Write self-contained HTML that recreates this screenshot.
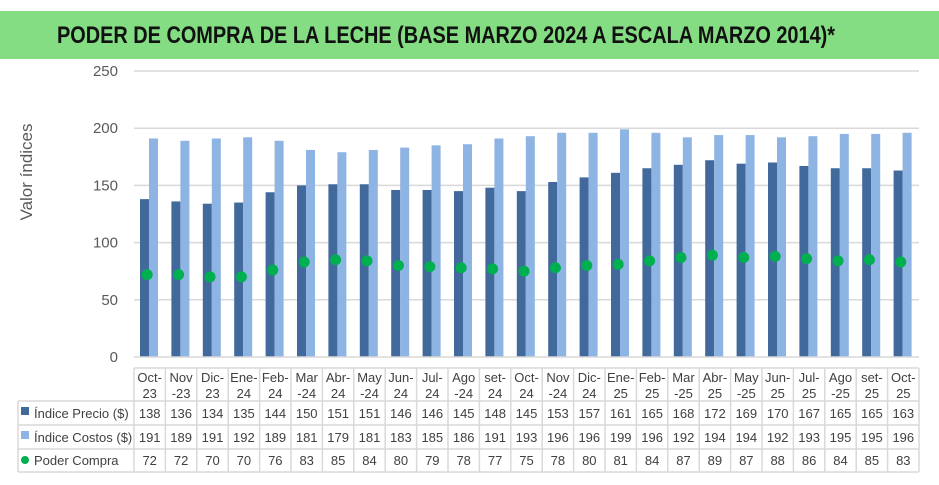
<!DOCTYPE html>
<html><head><meta charset="utf-8"><style>
body{margin:0;background:#fff;}
svg{display:block;font-family:"Liberation Sans",sans-serif;}
</style></head><body>
<svg id="s" width="939" height="485" xmlns="http://www.w3.org/2000/svg">
<rect x="0" y="11" width="939" height="48" fill="#84dd82"/>
<text x="57" y="43" font-size="24" font-weight="bold" fill="#111" textLength="778" lengthAdjust="spacingAndGlyphs">PODER DE COMPRA DE LA LECHE (BASE MARZO 2024 A ESCALA MARZO 2014)*</text>
<text transform="translate(32,172) rotate(-90)" text-anchor="middle" font-size="17" fill="#595959">Valor índices</text>
<g id="g"></g>
</svg>
<script>
const L=["Oct-|23","Nov|-23","Dic-|23","Ene-|24","Feb-|24","Mar|-24","Abr-|24","May|-24","Jun-|24","Jul-|24","Ago|-24","set-|24","Oct-|24","Nov|-24","Dic-|24","Ene-|25","Feb-|25","Mar|-25","Abr-|25","May|-25","Jun-|25","Jul-|25","Ago|-25","set-|25","Oct-|25"];
const P=[138,136,134,135,144,150,151,151,146,146,145,148,145,153,157,161,165,168,172,169,170,167,165,165,163];
const C=[191,189,191,192,189,181,179,181,183,185,186,191,193,196,196,199,196,192,194,194,192,193,195,195,196];
const D=[72,72,70,70,76,83,85,84,80,79,78,77,75,78,80,81,84,87,89,87,88,86,84,85,83];
let h="";const x0=134,x1=919,w=(x1-x0)/25,y0=357,k=286/250;
for(let v=0;v<=250;v+=50){const y=y0-v*k;
 if(v>0)h+=`<line x1="${x0}" x2="${x1}" y1="${y}" y2="${y}" stroke="#d9d9d9" stroke-width="1.5"/>`;
 h+=`<text x="118" y="${y+5}" text-anchor="end" font-size="15" fill="#595959">${v}</text>`;}
for(let i=0;i<25;i++){const c=x0+w*(i+.5);
 h+=`<rect x="${c-9.7}" y="${y0-P[i]*k}" width="9" height="${P[i]*k}" fill="#41699c"/>`;
 h+=`<rect x="${c-0.7}" y="${y0-C[i]*k}" width="9" height="${C[i]*k}" fill="#8eb4e3"/>`;
 h+=`<circle cx="${c-2.5}" cy="${y0-D[i]*k}" r="5.5" fill="#00b050"/>`;
 const [a,b]=L[i].split("|");
 h+=`<text x="${c}" y="382" text-anchor="middle" font-size="13" fill="#404040">${a}</text><text x="${c}" y="398" text-anchor="middle" font-size="13" fill="#404040">${b}</text>`;
 [[P,418],[C,442],[D,465]].forEach(([A,y])=>h+=`<text x="${c}" y="${y}" text-anchor="middle" font-size="13" fill="#404040">${A[i]}</text>`);}
h+=`<line x1="${x0}" x2="${x1}" y1="${y0}" y2="${y0}" stroke="#d9d9d9" stroke-width="1.5"/>`;
const st='stroke="#d9d9d9" stroke-width="1.5"';
[368,401,425,449,472].forEach((y,j)=>h+=`<line x1="${j==0?x0:18}" x2="${x1}" y1="${y}" y2="${y}" ${st}/>`);
for(let i=0;i<=25;i++){const x=x0+w*i;h+=`<line x1="${x}" x2="${x}" y1="368" y2="472" ${st}/>`;}
h+=`<line x1="18" x2="18" y1="401" y2="472" ${st}/>`;
h+=`<rect x="21" y="407" width="8" height="8" fill="#41699c"/><text x="34" y="418" font-size="13" fill="#404040">Índice Precio ($)</text>`;
h+=`<rect x="21" y="431" width="8" height="8" fill="#8eb4e3"/><text x="34" y="442" font-size="13" fill="#404040">Índice Costos ($)</text>`;
h+=`<circle cx="25" cy="460" r="4" fill="#00b050"/><text x="34" y="465" font-size="13" fill="#404040">Poder Compra</text>`;
document.getElementById("g").innerHTML=h;
</script>
</body></html>
